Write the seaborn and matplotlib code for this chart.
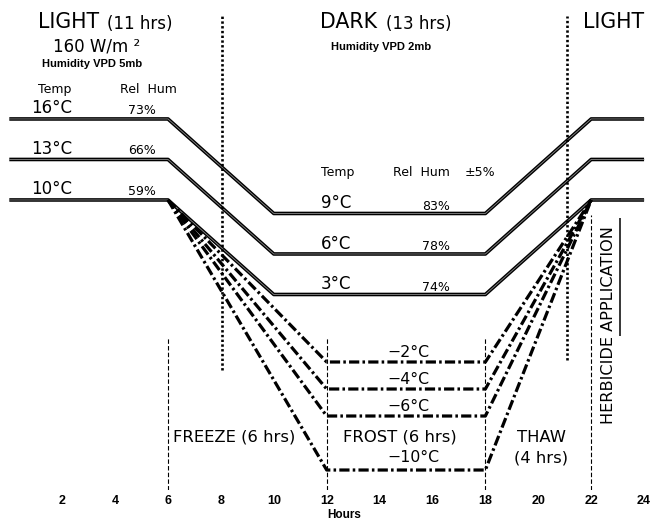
import matplotlib
matplotlib.use("Agg")
import matplotlib.pyplot as plt
import numpy as np
import pandas as pd
import seaborn as sns

# ---------------- data ----------------
profile_hours = [0, 6, 10, 18, 22, 24]
light_temps = [16, 13, 10]
dark_temps = [9, 6, 3]
light_rh = ["73%", "66%", "59%"]
dark_rh = ["83%", "78%", "74%"]

freeze_hours = [6, 12, 18, 22]
freeze_start_temp = 10
frost_temps = [-2, -4, -6, -10]

tick_hours = list(range(2, 25, 2))

photo_switch_hours = [8.05, 21.1]          # dotted light/dark boundaries
photo_switch_bottom = [-2.6, -1.85]
phase_hours = [6, 12, 18]                  # freeze / frost / thaw boundaries
herbicide_hour = 22

# ---------------- tables ----------------
rows = []
for i, (lt, dt) in enumerate(zip(light_temps, dark_temps)):
    temps = [lt, lt, dt, dt, lt, lt]
    for h, t in zip(profile_hours, temps):
        rows.append({"line": i, "hour": h, "temp": t})
solid_df = pd.DataFrame(rows)

rows = []
for i, ft in enumerate(frost_temps):
    temps = [freeze_start_temp, ft, ft, freeze_start_temp]
    for h, t in zip(freeze_hours, temps):
        rows.append({"line": i, "hour": h, "temp": t})
frost_df = pd.DataFrame(rows)

# ---------------- figure ----------------
sns.set_theme(style="white")
plt.rcParams["font.family"] = ["DejaVu Sans"]

fig = plt.figure(figsize=(6.52, 5.21), dpi=100)
ax = fig.add_axes([0, 31 / 521, 1, 490 / 521])
ax.set_xlim(-0.352, 24.30)
ax.set_ylim(-11.48, 24.81)
for s in ax.spines.values():
    s.set_visible(False)
ax.set_yticks([])

# solid temperature profiles (double-stroke look)
for i, g in solid_df.groupby("line"):
    sns.lineplot(data=g, x="hour", y="temp", ax=ax, color="black",
                 lw=2.6, legend=False, sort=False, solid_capstyle="butt")
    sns.lineplot(data=g, x="hour", y="temp", ax=ax, color="#8a8a8a",
                 lw=0.6, legend=False, sort=False)

# freeze / frost / thaw dash-dot profiles
for i, g in frost_df.groupby("line"):
    sns.lineplot(data=g, x="hour", y="temp", ax=ax, color="black",
                 lw=2.3, legend=False, sort=False,
                 linestyle=(0, (3.2, 1, 0.8, 1)))

# dotted light/dark boundaries
for h, b in zip(photo_switch_hours, photo_switch_bottom):
    ax.vlines(h, b, 23.6, colors="black", lw=1.9, linestyles=[(0, (0.9, 0.9))])

# thin dashed phase boundaries
ax.vlines(phase_hours, -11.48, -0.15, colors="black", lw=0.8,
          linestyles=[(0, (4, 2))])
ax.vlines(herbicide_hour, -11.48, 8.9, colors="black", lw=0.8,
          linestyles=[(0, (4, 2))])
ax.vlines(23.1, -0.1, 8.7, colors="black", lw=1.1)

# ticks
LIB = ["Liberation Sans", "DejaVu Sans"]
ax.set_xticks(tick_hours)
ax.set_xticklabels([str(t) for t in tick_hours], fontsize=9,
                   fontweight="bold", family=LIB)
ax.tick_params(axis="x", length=0, pad=3.5, colors="black")
ax.set_xlabel("Hours", fontsize=8.5, fontweight="bold", color="black",
              family=LIB)
ax.xaxis.set_label_coords(344 / 652, -0.0396)

# ---------------- text ----------------
def T(x, y, s, size, **kw):
    kw.setdefault("va", "center")
    kw.setdefault("ha", "left")
    ax.text(x, y, s, fontsize=size, color="black", **kw)

T(1.085, 23.19, "LIGHT", 14.8)
T(3.69, 23.04, "(11 hrs)", 12)
T(1.65, 20.96, "160 W/m ²", 12, va="baseline")
T(1.24, 19.85, "Humidity VPD 5mb", 8, fontweight="bold", family=LIB,
  va="baseline")
T(1.085, 18.15, "Temp", 9)
T(4.19, 18.15, "Rel  Hum", 9)

T(11.75, 23.19, "DARK", 14.8)
T(14.25, 23.04, "(13 hrs)", 12)
T(12.16, 21.33, "Humidity VPD 2mb", 8, fontweight="bold", family=LIB)
T(21.69, 23.19, "LIGHT", 14.8)
T(11.78, 12.07, "Temp", 9)
T(14.51, 12.07, "Rel  Hum", 9)
T(17.23, 12.07, "±5%", 9)

for lt, rh in zip(light_temps, light_rh):
    T(0.82, lt + 0.8, f"{lt}°C", 12)
    T(4.49, lt + 0.63, rh, 9)
for dt, rh in zip(dark_temps, dark_rh):
    T(11.78, dt + 0.74, f"{dt}°C", 12)
    T(15.6, dt + 0.52, rh, 9)
for ft in frost_temps:
    off = 0.9 if ft == -10 else 0.74
    T(14.28, ft + off, f"−{abs(ft)}°C", 11.3)

T(6.19, -7.56, "FREEZE (6 hrs)", 11.8)
T(12.62, -7.56, "FROST (6 hrs)", 11.8)
T(20.14, -7.56, "THAW", 11.8, ha="center")
T(20.10, -9.11, "(4 hrs)", 11.8, ha="center")
T(22.64, 0.74, "HERBICIDE APPLICATION", 11.6, rotation=90, ha="center")

fig.savefig("out.png", dpi=100)
